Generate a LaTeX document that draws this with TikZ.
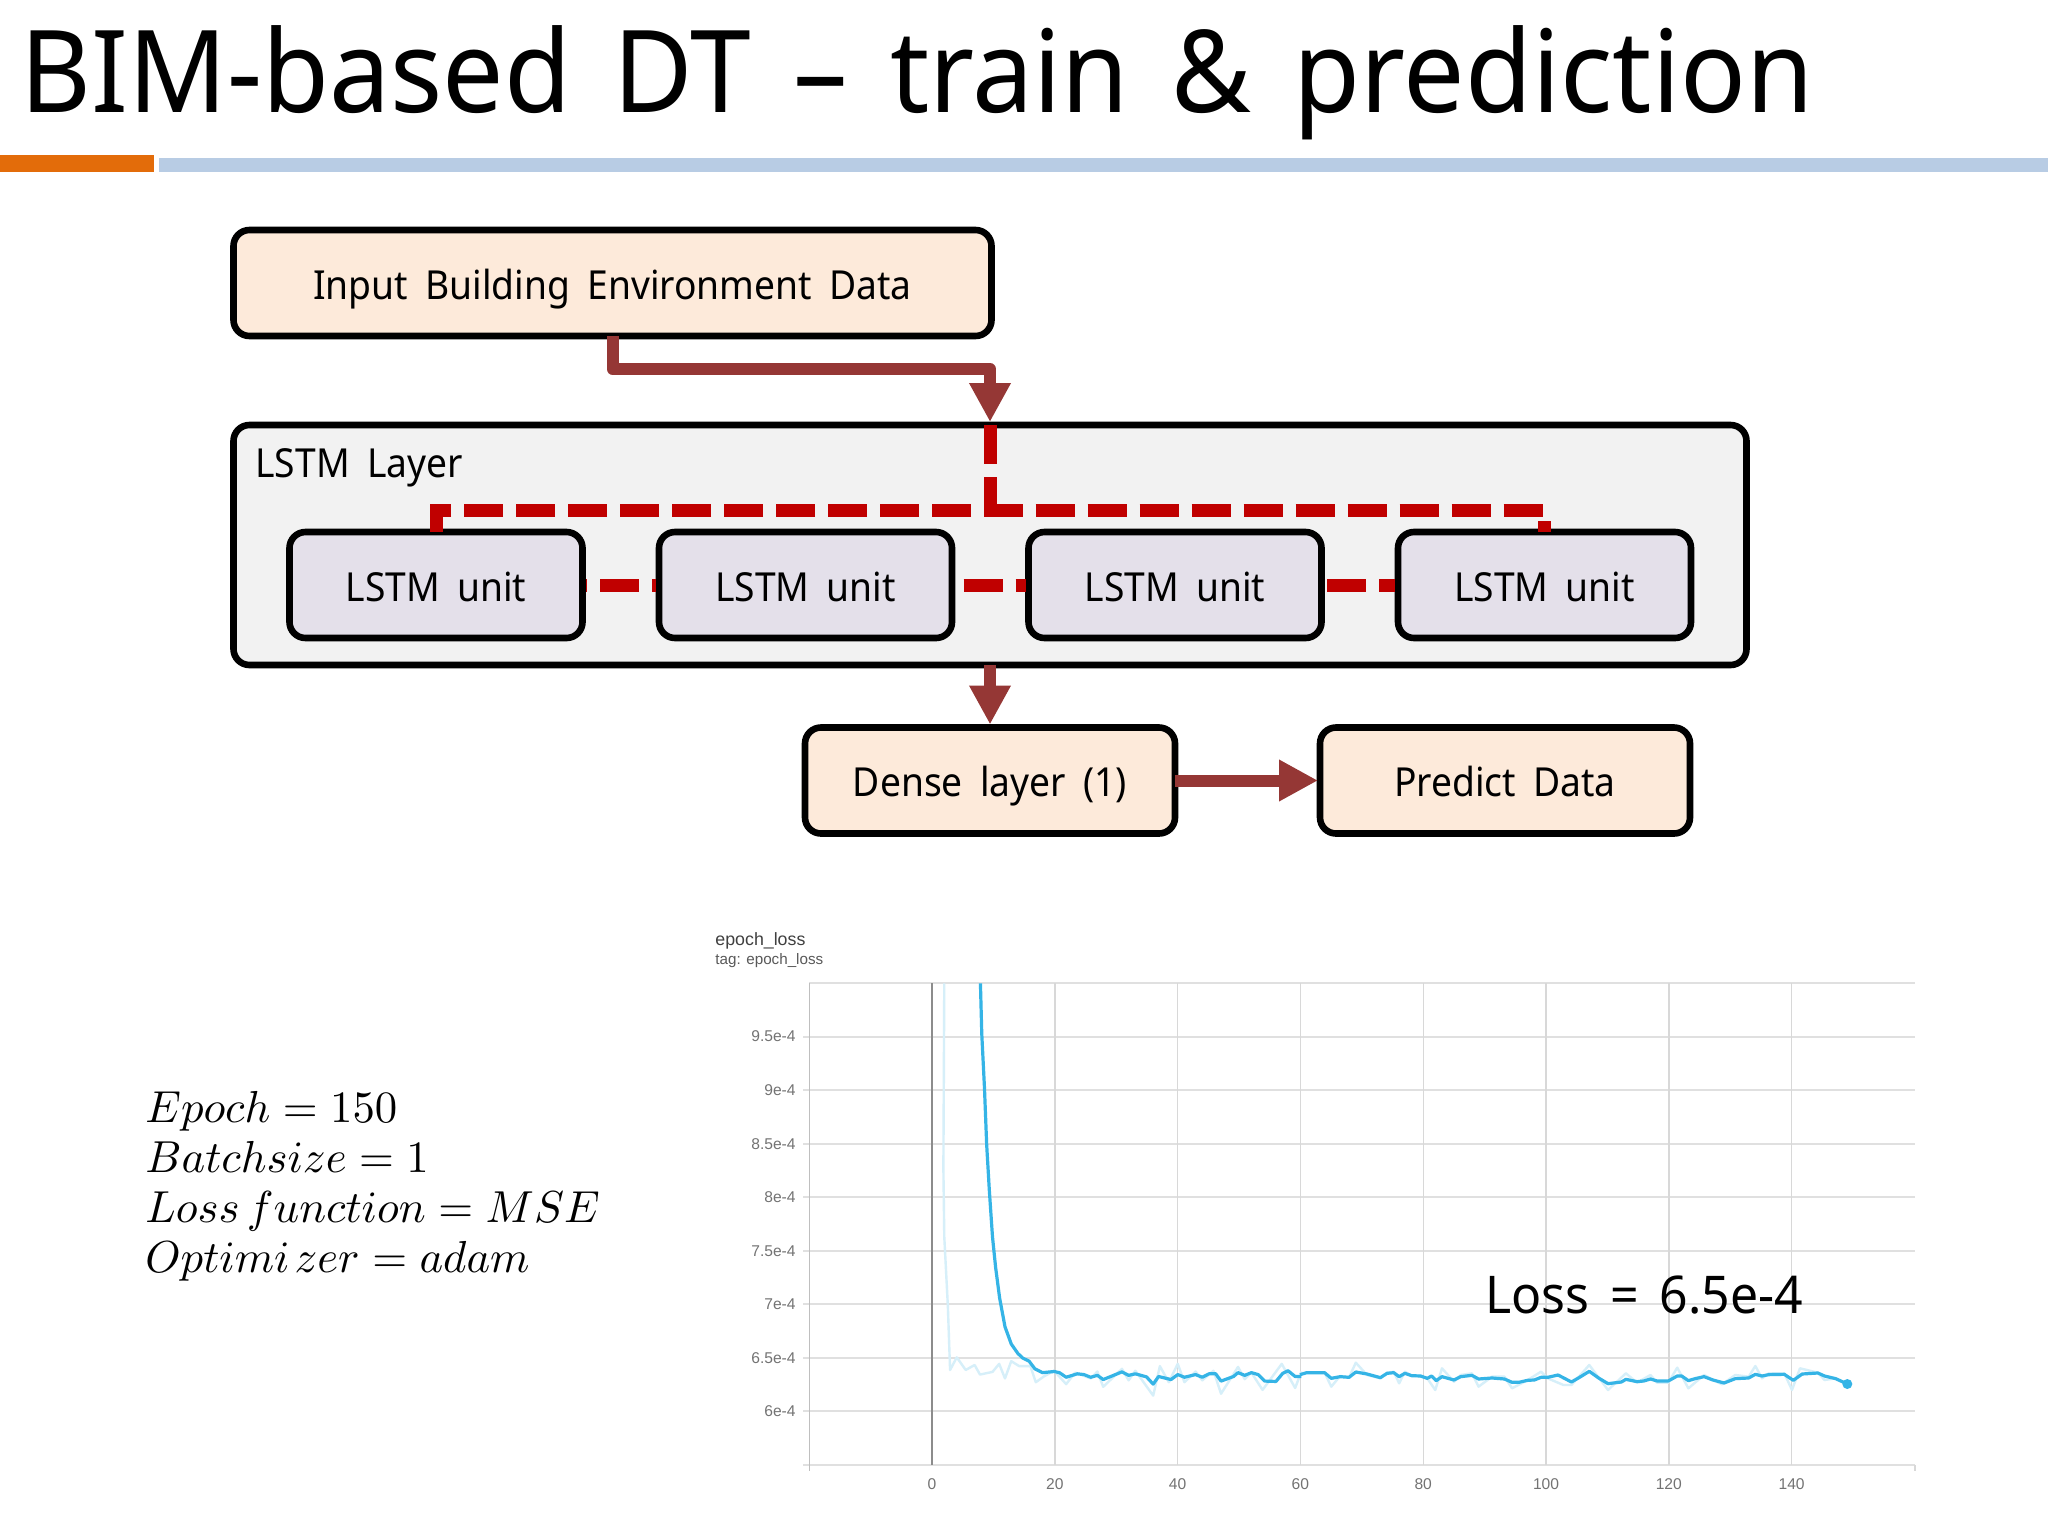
\documentclass[tikz,border=0pt]{standalone}
\usepackage[no-math]{fontspec}
\setmainfont[WordSpace=1.8]{Noto Sans}
\newfontfamily\lossfont[WordSpace=1.6]{Noto Sans}
\newfontfamily\chartfont{Liberation Sans}
\usetikzlibrary{arrows.meta}
\definecolor{peach}{HTML}{FDEADA}
\definecolor{unitfill}{HTML}{E4E0EA}
\definecolor{layerfill}{HTML}{F2F2F2}
\definecolor{arrowred}{HTML}{953735}
\definecolor{dashred}{HTML}{C00000}
\definecolor{barorange}{HTML}{E36C0A}
\definecolor{barblue}{HTML}{B8CCE4}
\definecolor{curve}{HTML}{35B4E6}
\definecolor{curvelight}{HTML}{D6EFF9}
\definecolor{gridh}{HTML}{E0E0E0}
\definecolor{gridv}{HTML}{D8D8D8}
\newcommand{\boxtext}[1]{\fontsize{20}{24}\selectfont\rule[-4.6pt]{0pt}{25.6pt}\scalebox{.93}[1]{#1}}
\newcommand{\titlegap}{\hspace{.39em}}
\tikzset{
  x=.5pt,y=-.5pt,
  box/.style={draw=black,line width=3.3pt,rounded corners=8pt,inner sep=0pt,outer sep=0pt,align=center},
  peachbox/.style={box,fill=peach,minimum height=53pt},
  unitbox/.style={box,fill=unitfill,minimum width=146.5pt,minimum height=53pt},
  flow/.style={draw=arrowred,line width=6pt,line join=round,-{Triangle[length=19.5pt,width=19.5pt]}},
  dashflow/.style={draw=dashred,line width=6.5pt,dash pattern=on 19.5pt off 6.5pt},
  linkflow/.style={dashflow,shorten <=1.5pt,shorten >=1.5pt},
  ylab/.style={anchor=east,inner sep=0pt,text=black!55,font=\chartfont\fontsize{7.8}{9}\selectfont},
  xlab/.style={anchor=center,inner sep=0pt,text=black!55,font=\chartfont\fontsize{7.8}{9}\selectfont},
  hgrid/.style={draw=gridh,line width=1pt},
  vgrid/.style={draw=gridv,line width=.7pt},
  darkcurve/.style={draw=curve,line width=1.6pt,line join=round},
  lightcurve/.style={draw=curvelight,line width=1.2pt,line join=round},
  mathline/.style={anchor=base west,inner sep=0pt},
}
\begin{document}
\begin{tikzpicture}
\path[use as bounding box,fill=white] (0,0) rectangle (2048,1536);
% title and rules
\node[anchor=base west,inner sep=0pt] (title) at (20,112.7) {\fontsize{57.2}{60}\selectfont\scalebox{.953}[1]{BIM-based\titlegap DT\titlegap –\titlegap train\titlegap \&\titlegap prediction}};
\fill[barorange] (0,155) rectangle (153.5,171.5);
\fill[barblue] (159,157.5) rectangle (2048,171.5);
% boxes
\node[peachbox,minimum width=379pt] (input) at (612.5,283) {\boxtext{Input Building Environment Data}};
\node[box,fill=layerfill,minimum width=756.5pt,minimum height=120pt] (layer) at (990,545) {};
\node[anchor=base west,inner sep=0pt] (layertitle) at (255,477) {\fontsize{20}{24}\selectfont\scalebox{.93}[1]{LSTM Layer}};
\node[unitbox] (u1) at (436,585) {\boxtext{LSTM unit}};
\node[unitbox] (u2) at (805.5,585) {\boxtext{LSTM unit}};
\node[unitbox] (u3) at (1175,585) {\boxtext{LSTM unit}};
\node[unitbox] (u4) at (1544.5,585) {\boxtext{LSTM unit}};
\node[peachbox,minimum width=185pt] (dense) at (990,780.5) {\boxtext{Dense layer (1)}};
\node[peachbox,minimum width=185pt] (predict) at (1505,780.5) {\boxtext{Predict Data}};
% connectors
\draw[linkflow,dash phase=18.75pt] (u1.east) -- (u2.west);
\draw[linkflow,dash phase=21.7pt] (u2.east) -- (u3.west);
\draw[linkflow,dash phase=24.75pt] (u3.east) -- (u4.west);
\draw[flow] (input.south) -- ++(0,33) -| ([yshift=1.5pt]layer.north);
\coordinate (junction) at ([yshift=-42.5pt]layer.north);
\draw[dashflow] (layer.north) -- (junction) -| (u1.north);
\draw[dashflow,dash phase=3.15pt] (junction) -| (u4.north);
\draw[flow] (layer.south) -- ([yshift=1.5pt]dense.north);
\draw[flow] (dense.east) -- ([xshift=-1pt]predict.west);
% parameters
\node[mathline] (p1) at (145,1122.7) {\scalebox{2.24}{$Epoch = 150$}};
\node[mathline] (p2) at (145,1172.7) {\scalebox{2.24}{$Batchsize = 1$}};
\node[mathline] (p3) at (145,1222.7) {\scalebox{2.24}{$Loss\,function = MSE$}};
\node[mathline] (p4) at (145,1272.7) {\scalebox{2.24}{$Optimi\mkern2mu zer = adam$}};
% chart
\node[anchor=west,inner sep=0pt,text=black!75,font=\chartfont\fontsize{8.9}{10}\selectfont] (charttitle) at (715,941) {epoch\_loss};
\node[anchor=west,inner sep=0pt,text=black!65,font=\chartfont\fontsize{7.6}{9}\selectfont] (charttag) at (715,961) {tag: epoch\_loss};
\draw[hgrid] (809,983.4) -- (1915,983.4);
\draw[hgrid] (803,1465) -- (1915,1465);
\foreach \lab/\yy in {9.5e-4/1036.6,9e-4/1090.1,8.5e-4/1143.7,8e-4/1197.2,7.5e-4/1250.7,7e-4/1304.2,6.5e-4/1357.8,6e-4/1411.3}{
  \draw[hgrid] (803,\yy) -- (1915,\yy);
  \node[ylab] at (796,\yy) {\lab};
}
\foreach \lab/\xx in {20/1054.8,40/1177.6,60/1300.4,80/1423.2,100/1546,120/1668.8,140/1791.6}{
  \draw[vgrid] (\xx,983.4) -- (\xx,1465);
  \node[xlab] at (\xx,1484) {\lab};
}
\draw[draw=black!25,line width=.8pt] (809.5,983.4) -- (809.5,1471);
\draw[gridv,line width=.8pt] (1915,1465) -- (1915,1471);
\draw[draw=black!45,line width=1.1pt] (932,983.4) -- (932,1465);
\node[xlab] at (932,1484) {0};
\begin{scope}[shift={(680,900)},xscale=.4464,yscale=.3827]
\draw[lightcurve] (592,218)--(590,700)--(592,880)--(600,1060)--(605,1228)--(620,1195)--(640,1228)--(660,1215)--(672,1240)--(700,1233)--(715,1212)--(728,1250)--(742,1205)--(760,1218)--(785,1218)--(797,1260)--(815,1245)--(838,1230)--(865,1265)--(885,1235)--(920,1250)--(935,1232)--(948,1272)--(990,1225)--(1005,1255)--(1020,1230)--(1060,1295)--(1075,1218)--(1095,1260)--(1115,1212)--(1130,1260)--(1155,1232)--(1170,1255)--(1195,1230)--(1212,1290)--(1250,1220)--(1265,1252)--(1280,1235)--(1305,1280)--(1348,1212)--(1378,1275)--(1392,1232);
\end{scope}
\begin{scope}[shift={(1300,1200)},xscale=.4464,yscale=.3333]
\draw[lightcurve] (0,524)--(15,518)--(55,518)--(70,560)--(90,528)--(110,532)--(125,488)--(150,525)--(180,535)--(195,518)--(210,515)--(222,550)--(235,515)--(250,527)--(270,528)--(285,535)--(303,570)--(318,505)--(345,545)--(360,525)--(385,520)--(400,560)--(430,530)--(458,530)--(475,565)--(510,540)--(540,515)--(555,535)--(590,555)--(608,555)--(648,495)--(690,570)--(730,520)--(755,548)--(785,525)--(800,548)--(825,548)--(845,503)--(870,565)--(905,525)--(945,553)--(975,525)--(1005,530)--(1020,498)--(1035,535)--(1050,520)--(1085,520)--(1102,570)--(1120,505)--(1160,518)--(1175,540)--(1200,535)--(1226,552);
\end{scope}
\begin{scope}[shift={(680,900)},xscale=.4464,yscale=.3827]
\draw[darkcurve] (673,218)--(676,350)--(682,490)--(687,640)--(693,760)--(700,880)--(707,960)--(716,1040)--(728,1115)--(742,1160)--(757,1185)--(768,1197)--(782,1205)--(795,1225)--(812,1235)--(838,1232)--(850,1235)--(865,1247)--(890,1238)--(905,1240)--(920,1247)--(935,1242)--(948,1253)--(965,1245)--(990,1233)--(1005,1242)--(1020,1238)--(1045,1246)--(1060,1265)--(1072,1245)--(1100,1253)--(1115,1240)--(1130,1247)--(1155,1240)--(1170,1247)--(1185,1238)--(1200,1238)--(1212,1257)--(1240,1245)--(1250,1235)--(1265,1242)--(1280,1235)--(1295,1240)--(1310,1257)--(1335,1258)--(1350,1237)--(1362,1230)--(1378,1245)--(1392,1245);
\end{scope}
\begin{scope}[shift={(1300,1200)},xscale=.4464,yscale=.3333]
\draw[darkcurve] (0,524)--(15,518)--(55,518)--(70,535)--(90,530)--(110,532)--(125,516)--(150,522)--(180,533)--(195,520)--(210,518)--(222,530)--(235,520)--(250,527)--(270,528)--(285,535)--(295,528)--(305,542)--(318,530)--(345,540)--(360,530)--(385,526)--(400,537)--(430,534)--(458,537)--(475,547)--(490,547)--(510,541)--(525,540)--(540,532)--(555,532)--(578,525)--(608,546)--(625,533)--(648,514)--(670,535)--(690,551)--(720,546)--(730,538)--(755,545)--(770,543)--(785,537)--(800,543)--(825,543)--(845,528)--(855,528)--(870,542)--(885,536)--(905,530)--(925,540)--(950,549)--(975,536)--(1005,534)--(1020,523)--(1035,528)--(1050,524)--(1085,523)--(1105,541)--(1125,522)--(1160,519)--(1175,528)--(1200,536)--(1226,552);
\end{scope}
\fill[curve] (1847.3,1384) circle (2.5pt);
\node[anchor=base west,inner sep=0pt] (loss) at (1485,1313) {\lossfont\fontsize{26}{30}\selectfont\scalebox{.96}[1]{Loss = 6.5e-4}};
\end{tikzpicture}
\end{document}
